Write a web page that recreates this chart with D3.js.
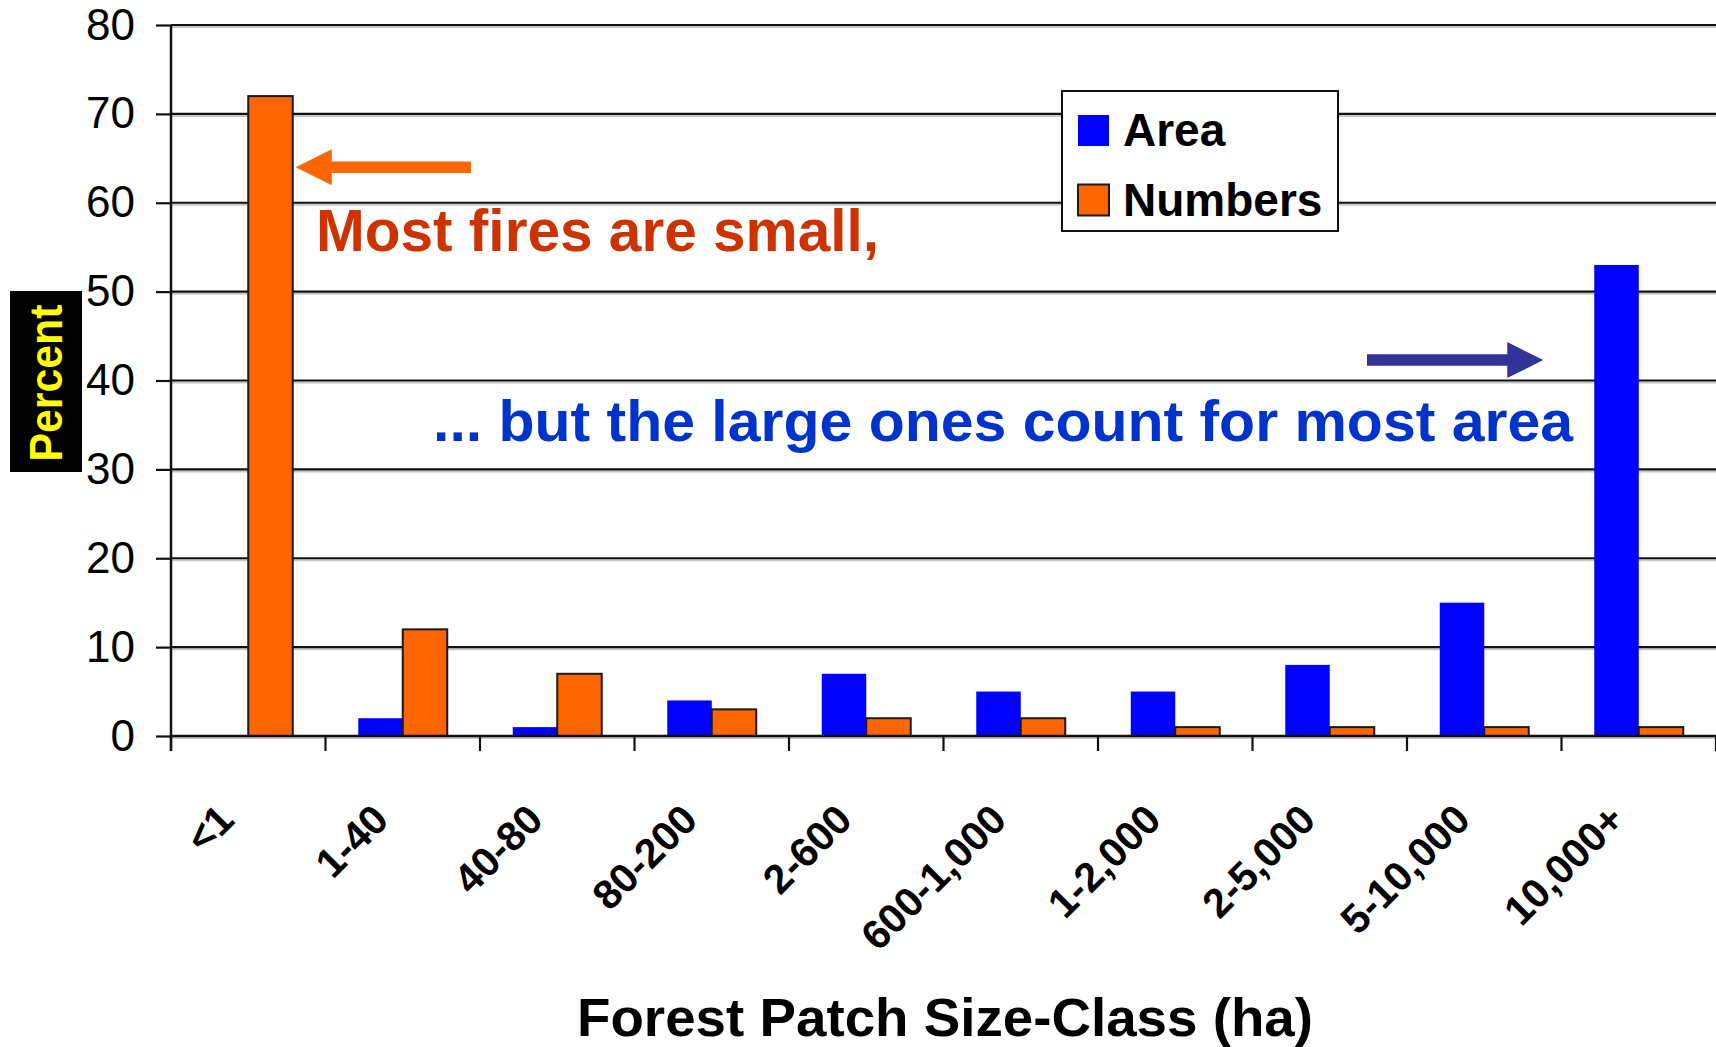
<!DOCTYPE html>
<html>
<head>
<meta charset="utf-8">
<script src="https://cdnjs.cloudflare.com/ajax/libs/d3/7.8.5/d3.min.js"></script>
<style>
  html, body { margin: 0; padding: 0; background: #fff; }
  svg { display: block; font-family: "Liberation Sans", Arial, sans-serif; }
</style>
</head>
<body>
<svg id="chart"></svg>
<script>
// size classes (ha)
var categories = ["<1", "1-40", "40-80", "80-200", "2-600", "600-1,000", "1-2,000", "2-5,000", "5-10,000", "10,000+"];
var areaPct    = [0, 2, 1, 4, 7, 5, 5, 8, 15, 53];
var numbersPct = [72, 12, 7, 3, 2, 2, 1, 1, 1, 1];
var yTicks = [0, 10, 20, 30, 40, 50, 60, 70, 80];
var seriesNames = ["Area", "Numbers"];
var seriesColors = {"Area": "#0000ff", "Numbers": "#ff6600"};

var width = 1716, height = 1047;
var plotLeft = 171, plotRight = 1716, plotTop = 25, plotBottom = 736;

var svg = d3.select("#chart").attr("width", width).attr("height", height);

var x0 = d3.scaleBand().domain(categories).range([plotLeft, plotRight])
    .paddingInner(0.424).paddingOuter(0.212);
var x1 = d3.scaleBand().domain(seriesNames).range([0, x0.bandwidth()]);
var y = d3.scaleLinear().domain([0, 80]).range([plotBottom, plotTop]);

// gridlines
var grid = svg.append("g");
grid.selectAll("line.shadow").data(yTicks).enter().append("line")
    .attr("class", "shadow")
    .attr("x1", plotLeft).attr("x2", plotRight)
    .attr("y1", function(d) { return y(d) + 2; }).attr("y2", function(d) { return y(d) + 2; })
    .attr("stroke", "#c8c8c8").attr("stroke-width", 2);
grid.selectAll("line.main").data(yTicks).enter().append("line")
    .attr("class", "main")
    .attr("x1", plotLeft).attr("x2", plotRight)
    .attr("y1", function(d) { return y(d); }).attr("y2", function(d) { return y(d); })
    .attr("stroke", "#111").attr("stroke-width", 2.2);

// bars
var rows = categories.map(function(c, i) {
  return {cat: c, values: [{key: "Area", v: areaPct[i]}, {key: "Numbers", v: numbersPct[i]}]};
});
var groups = svg.append("g").selectAll("g").data(rows).enter().append("g")
    .attr("transform", function(d) { return "translate(" + x0(d.cat) + ",0)"; });
groups.selectAll("rect").data(function(d) { return d.values.filter(function(e) { return e.v > 0; }); })
  .enter().append("rect")
    .attr("x", function(d) { return x1(d.key); })
    .attr("width", x1.bandwidth())
    .attr("y", function(d) { return y(d.v); })
    .attr("height", function(d) { return y(0) - y(d.v); })
    .attr("fill", function(d) { return seriesColors[d.key]; })
    .attr("stroke", function(d) { return d.key == "Numbers" ? "#1a1a1a" : "none"; })
    .attr("stroke-width", 2);

// axes
svg.append("line").attr("x1", plotLeft).attr("x2", plotRight).attr("y1", y(0)).attr("y2", y(0))
    .attr("stroke", "#111").attr("stroke-width", 2.5);
svg.append("line").attr("x1", plotLeft).attr("x2", plotLeft).attr("y1", y(80)).attr("y2", y(0) + 15)
    .attr("stroke", "#111").attr("stroke-width", 2.5);

var yAxis = d3.axisLeft(y).tickValues(yTicks).tickSize(15).tickPadding(21);
var gy = svg.append("g").attr("transform", "translate(" + plotLeft + ",0)").call(yAxis);
gy.select(".domain").remove();
gy.selectAll(".tick line").attr("stroke", "#111").attr("stroke-width", 2.2);
gy.selectAll(".tick text").attr("font-size", 44).attr("fill", "#000")
    .attr("font-family", "'Liberation Sans', Arial, sans-serif");

// x ticks at the band boundaries
var step = x0.step();
svg.append("g").selectAll("line").data(d3.range(categories.length + 1)).enter().append("line")
    .attr("x1", function(i) { return plotLeft + i * step; })
    .attr("x2", function(i) { return plotLeft + i * step; })
    .attr("y1", y(0)).attr("y2", y(0) + 15)
    .attr("stroke", "#111").attr("stroke-width", 2.2);

svg.append("g").selectAll("text").data(categories).enter().append("text")
    .attr("transform", function(d) {
      return "translate(" + (x0(d) + x0.bandwidth() / 2 - 12) + ",822) rotate(-45)";
    })
    .attr("text-anchor", "end")
    .attr("font-size", 41).attr("font-weight", "bold")
    .text(function(d) { return d; });

// axis titles
svg.append("text").attr("x", 577).attr("y", 1036)
    .attr("font-size", 53).attr("font-weight", "bold")
    .attr("textLength", 736).attr("lengthAdjust", "spacingAndGlyphs")
    .text("Forest Patch Size-Class (ha)");

svg.append("rect").attr("x", 10).attr("y", 291).attr("width", 72).attr("height", 181).attr("fill", "#000");
svg.append("text").attr("transform", "translate(62,383) rotate(-90)")
    .attr("text-anchor", "middle").attr("fill", "#ffff00")
    .attr("font-size", 46).attr("font-weight", "bold")
    .attr("textLength", 157).attr("lengthAdjust", "spacingAndGlyphs")
    .text("Percent");

// legend
var legend = svg.append("g");
legend.append("rect").attr("x", 1062).attr("y", 91).attr("width", 276).attr("height", 140)
    .attr("fill", "#fff").attr("stroke", "#111").attr("stroke-width", 2);
var li = legend.selectAll("g").data(seriesNames).enter().append("g")
    .attr("transform", function(d, i) { return "translate(1078," + (115 + i * 69.5) + ")"; });
li.append("rect").attr("width", 31).attr("height", 31)
    .attr("fill", function(d) { return seriesColors[d]; })
    .attr("stroke", function(d) { return d == "Numbers" ? "#1a1a1a" : "none"; })
    .attr("stroke-width", 2);
li.append("text").attr("x", 45).attr("y", 31)
    .attr("font-size", 46).attr("font-weight", "bold")
    .text(function(d) { return d; });

// annotations
function arrow(tipX, tipY, tailX, dir, color) {
  var head = 36, half = 18, sh = 5.75;
  var hx = tipX - dir * head;
  var pts = [[tipX, tipY], [hx, tipY - half], [hx, tipY - sh], [tailX, tipY - sh],
             [tailX, tipY + sh], [hx, tipY + sh], [hx, tipY + half]];
  svg.append("path").attr("d", d3.line()(pts) + "Z").attr("fill", color);
}
arrow(x0("<1") + x1("Numbers") + x1.bandwidth() + 3, y(64), 471, -1, "#ff6600");
arrow(x0("10,000+") - 51, y(42.3), 1367, 1, "#333399");

svg.append("text").attr("x", 316).attr("y", 251)
    .attr("font-size", 60).attr("font-weight", "bold").attr("fill", "#cc3300")
    .attr("textLength", 563).attr("lengthAdjust", "spacingAndGlyphs")
    .text("Most fires are small,");
svg.append("text").attr("x", 433).attr("y", 441)
    .attr("font-size", 58).attr("font-weight", "bold").attr("fill", "#0033cc")
    .attr("textLength", 1140).attr("lengthAdjust", "spacingAndGlyphs")
    .text("... but the large ones count for most area");
</script>
</body>
</html>
